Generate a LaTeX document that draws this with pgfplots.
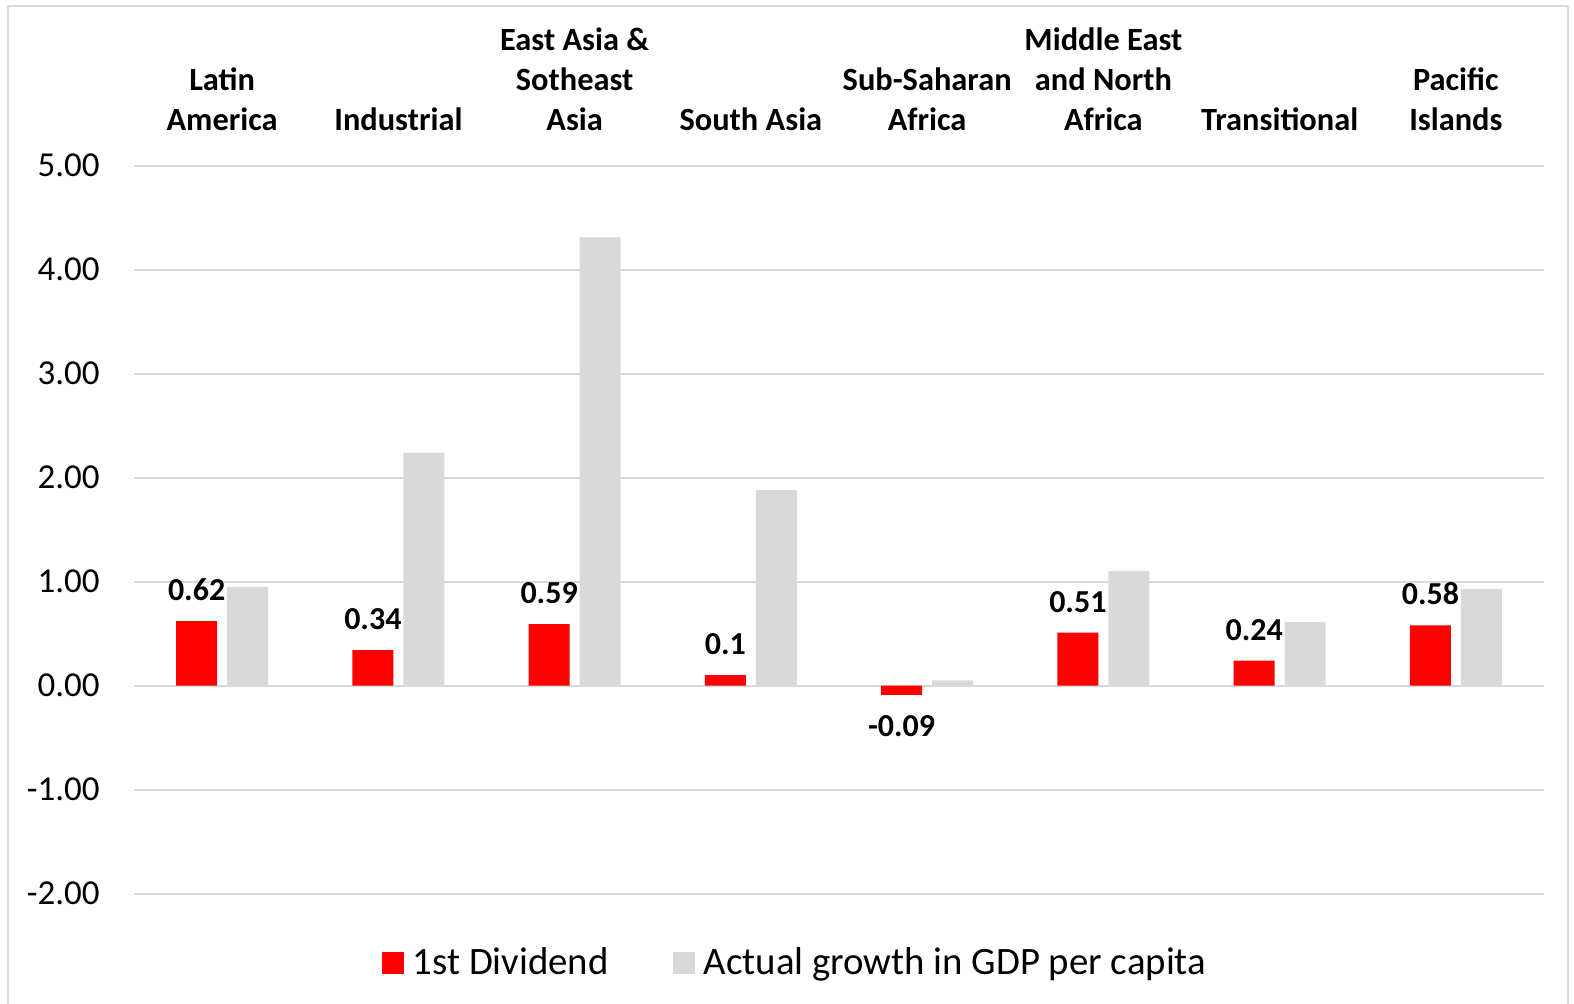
\documentclass[border=0pt]{standalone}
\usepackage{pgfplots}
\pgfplotsset{compat=1.18}
\usepackage{fontspec}
\setmainfont{Carlito}
\definecolor{barred}{RGB}{255,0,0}
\definecolor{bargray}{RGB}{217,217,217}
\definecolor{gridgray}{RGB}{217,217,217}
\begin{document}
\begin{tikzpicture}
\useasboundingbox (0,0) rectangle (787pt,502pt);
\draw[gridgray, line width=1pt] (3.75pt,-10pt) -- (3.75pt,499pt) -- (784pt,499pt) -- (784pt,-10pt);
\begin{axis}[
  at={(67pt,55.2pt)}, anchor=south west,
  scale only axis,
  width=705pt, height=364pt,
  ybar, bar width=20.5pt,
  xmin=-0.5, xmax=7.5,
  ymin=-2, ymax=5,
  ytick={-2,-1,0,1,2,3,4,5},
  xtick={0,1,2,3,4,5,6,7},
  xticklabels={{Latin\\America},{Industrial},{East Asia \&\\Sotheast\\Asia},{South Asia},{Sub-Saharan\\Africa},{Middle East\\and North\\Africa},{Transitional},{Pacific\\Islands}},
  xticklabel pos=upper,
  axis line style={draw=none},
  major tick length=0pt,
  tick style={draw=none},
  ymajorgrids,
  major grid style={draw=gridgray, line width=1pt},
  /pgf/number format/assume math mode=true,
  yticklabel={\pgfmathprintnumber[fixed,fixed zerofill,precision=2]{\tick}},
  yticklabel style={font=\fontsize{17.5}{21}\selectfont, anchor=east, inner sep=0pt, xshift=-17pt},
  xticklabel style={font=\bfseries\fontsize{16.2}{20}\selectfont, anchor=south, inner sep=0pt, yshift=17.5pt, align=center, text depth=0pt},
  legend columns=2,
  legend style={draw=none, at={(0.4695,-0.0948)}, anchor=center, font=\fontsize{19.4}{23}\selectfont,
    /tikz/every even column/.append style={column sep=30pt},
    /tikz/every odd column/.append style={column sep=2.5pt}},
  legend image code/.code={\fill[#1] (0pt,-5.5pt) rectangle (11pt,5.5pt);},
]
\addplot[fill=barred, draw=none, bar shift=-12.75pt,
  point meta=y, nodes near coords={\pgfmathprintnumber[fixed,precision=2]{\pgfplotspointmeta}},
  every node near coord/.append style={font=\bfseries\fontsize{16}{19}\selectfont, inner sep=10pt, text depth=0pt, black}]
  coordinates {(0,0.62) (1,0.34) (2,0.59) (3,0.10) (4,-0.09) (5,0.51) (6,0.24) (7,0.58)};
\addlegendentry{1st Dividend}
\addplot[fill=bargray, draw=none, bar shift=12.75pt]
  coordinates {(0,0.95) (1,2.24) (2,4.31) (3,1.88) (4,0.05) (5,1.10) (6,0.61) (7,0.93)};
\addlegendentry{Actual growth in GDP per capita}
\end{axis}
\end{tikzpicture}
\end{document}
